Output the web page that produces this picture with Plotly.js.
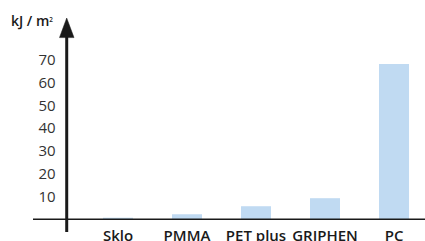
<!DOCTYPE html>
<html>
<head>
<meta charset="utf-8">
<script src="https://cdn.plot.ly/plotly-3.0.1.min.js"></script>
<style>html,body{margin:0;padding:0;background:#fff;}#chart{width:425px;height:241px;}</style>
</head>
<body>
<div id="chart"></div>
<script>
var categories = ["Sklo", "PMMA", "PET plus", "GRIPHEN", "PC"];
var values = [1, 2.5, 6, 9.5, 68];
var yTickVals = [10, 20, 30, 40, 50, 60, 70];
var yTickText = ["10", "20", "30", "40", "50", "60", "70"];
var unitLabel = "kJ / m<span style='font-size:9px'><sup>2</sup></span>";

var axisX = 0.086;
var trace = {
  type: "bar",
  x: categories,
  y: values,
  marker: {color: "#c0daf2"},
  hoverinfo: "none"
};
var layout = {
  width: 425,
  height: 241,
  margin: {l: 33, r: 0, t: 20, b: 21},
  paper_bgcolor: "#fff",
  plot_bgcolor: "#fff",
  showlegend: false,
  bargap: 0.565,
  font: {family: "Open Sans, sans-serif", color: "#222"},
  xaxis: {
    type: "category",
    range: [-1.232, 4.449],
    showgrid: false,
    zeroline: false,
    showline: false,
    ticks: "",
    tickfont: {size: 15, color: "#1a1a1a", weight: 600},
    ticklabelstandoff: 5,
    fixedrange: true
  },
  yaxis: {
    range: [0, 87.15],
    anchor: "free",
    position: axisX,
    side: "left",
    showgrid: false,
    zeroline: false,
    showline: false,
    ticks: "",
    tickvals: yTickVals,
    ticktext: yTickText,
    tickfont: {size: 15, color: "#333"},
    ticklabelstandoff: 11,
    fixedrange: true
  },
  shapes: [
    {type: "line", xref: "paper", yref: "y", x0: 0, x1: 1, y0: 0, y1: 0,
     line: {color: "#1a1a1a", width: 3}},
    {type: "line", xref: "paper", yref: "paper", x0: axisX, x1: axisX, y0: -0.06, y1: 0.93,
     line: {color: "#1a1a1a", width: 3}},
    {type: "path", xref: "paper", yref: "paper",
     path: "M 0.0676,0.912 L " + axisX + ",1.01 L 0.1046,0.912 Z",
     fillcolor: "#1a1a1a", line: {color: "#1a1a1a", width: 0.5}}
  ],
  annotations: [
    {text: unitLabel, xref: "paper", yref: "paper", x: 0, y: 1.0, xanchor: "center", yanchor: "middle",
     xshift: -1.5, showarrow: false, font: {size: 14, color: "#1a1a1a", weight: 600}}
  ]
};
Plotly.newPlot("chart", [trace], layout, {staticPlot: true, displayModeBar: false});
</script>
</body>
</html>
